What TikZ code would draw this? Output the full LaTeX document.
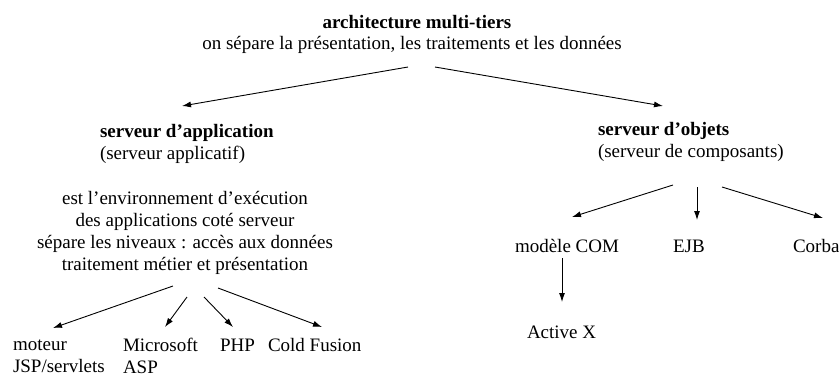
\documentclass[tikz,border=0pt]{standalone}
\usepackage{fontspec}
\setmainfont{Liberation Serif}
\usetikzlibrary{arrows.meta}
\begin{document}
\begin{tikzpicture}[x=1pt,y=-1pt,
  every node/.style={inner sep=0pt,outer sep=0pt},
  txt/.style={font=\fontsize{19}{22}\selectfont},
  ttl/.style={font=\fontsize{19}{23}\selectfont\bfseries},
  arr/.style={-{Latex[length=9pt,width=6pt]}, line width=0.9pt}]
\useasboundingbox[fill=white] (0,0) rectangle (839,378);
% top
\node[ttl] (title) at (417,22) {architecture multi-tiers};
\node[txt] (sub) at (412,45) {on sépare la présentation, les traitements et les données};
% application server
\node[txt,align=left,anchor=west] (app) at (100,144) {\textbf{serveur d'application}\\(serveur applicatif)};
\node[txt,align=center] (desc) at (185,233) {est l'environnement d'exécution\\des applications coté serveur\\sépare les niveaux : accès aux données\\traitement métier et présentation};
\node[txt,align=left,anchor=west] (jsp) at (13,356) {moteur\\JSP/servlets};
\node[txt,align=left,anchor=west] (asp) at (123,356) {Microsoft\\ASP};
\node[txt,anchor=west] (php) at (220,345) {PHP};
\node[txt,anchor=west] (cold) at (268,345) {Cold Fusion};
% object server
\node[txt,align=left,anchor=west] (obj) at (598,142) {\textbf{serveur d'objets}\\(serveur de composants)};
\node[txt,anchor=west] (com) at (515,246) {modèle COM};
\node[txt,anchor=west] (ejb) at (673,246) {EJB};
\node[txt,anchor=west] (corba) at (793,246) {Corba};
\node[txt,anchor=west] (activex) at (527,332) {Active X};
% connector ends
\coordinate (s1) at (408,67);  \coordinate (e1) at (182,106);
\coordinate (s2) at (435,67);  \coordinate (e2) at (663,106);
\coordinate (d1) at (173,286); \coordinate (f1) at (53,328);
\coordinate (d2) at (187,297); \coordinate (f2) at (165,327);
\coordinate (d3) at (204,297); \coordinate (f3) at (233,327);
\coordinate (d4) at (218,288); \coordinate (f4) at (322,327);
\coordinate (o1) at (673,185); \coordinate (g1) at (572,217);
\coordinate (o2) at (697,187); \coordinate (g2) at (697,220);
\coordinate (o3) at (722,187); \coordinate (g3) at (823,218);
\coordinate (c1) at (562,258); \coordinate (h1) at (562,302);
% connectors
\draw[arr] (s1) -- (e1);
\draw[arr] (s2) -- (e2);
\draw[arr] (d1) -- (f1);
\draw[arr] (d2) -- (f2);
\draw[arr] (d3) -- (f3);
\draw[arr] (d4) -- (f4);
\draw[arr] (o1) -- (g1);
\draw[arr] (o2) -- (g2);
\draw[arr] (o3) -- (g3);
\draw[arr] (c1) -- (h1);
\end{tikzpicture}
\end{document}
